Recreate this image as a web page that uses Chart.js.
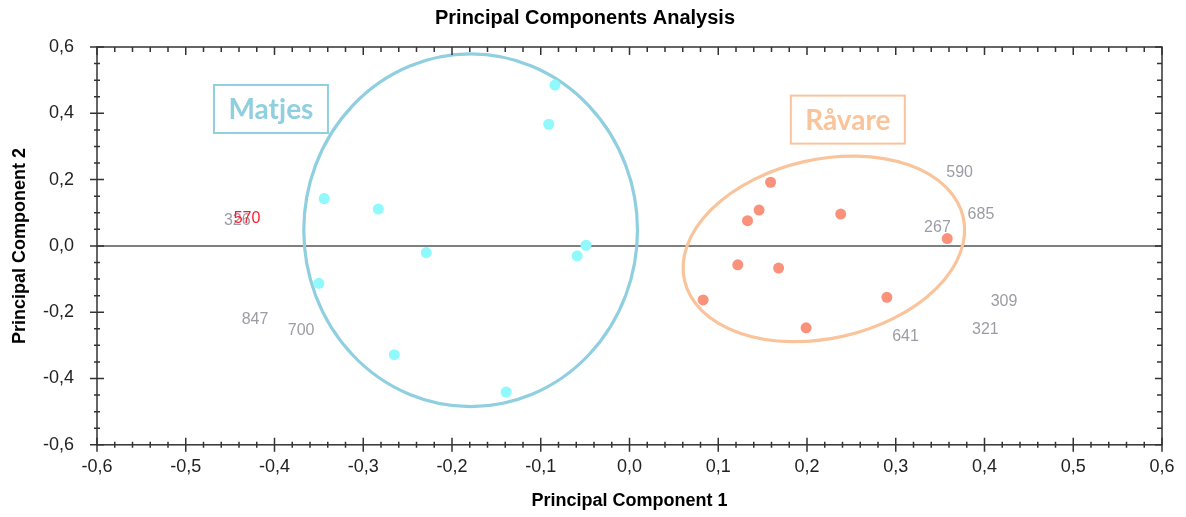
<!DOCTYPE html>
<html>
<head>
<meta charset="utf-8">
<title>Principal Components Analysis</title>
<script src="https://cdn.jsdelivr.net/npm/chart.js@4.4.1/dist/chart.umd.min.js"></script>
<style>
    html, body { margin: 0; padding: 0; background: #fff; }
    #wrap { width: 1186px; height: 517px; }
</style>
</head>
<body>
<div id="wrap"><canvas id="pcaChart" width="1186" height="517"></canvas></div>
<script>
// Scores (PC1 / PC2)
const matjesX = [-0.344, -0.283, -0.229, -0.350, -0.265, -0.139, -0.091, -0.084, -0.059, -0.049];
const matjesY = [0.143, 0.111, -0.020, -0.113, -0.328, -0.441, 0.367, 0.485, -0.030, 0.002];
const ravareX = [0.159, 0.146, 0.133, 0.238, 0.358, 0.122, 0.168, 0.083, 0.290, 0.199];
const ravareY = [0.192, 0.108, 0.076, 0.096, 0.022, -0.057, -0.067, -0.163, -0.155, -0.247];

// Sample numbers printed in the plot (570 is the red one)
const sampleLabels = ['326', '570', '847', '700', '590', '685', '267', '309', '321', '641'];
const sampleX = [-0.442, -0.431, -0.422, -0.370, 0.372, 0.396, 0.347, 0.422, 0.401, 0.311];
const sampleY = [0.075, 0.081, -0.221, -0.256, 0.220, 0.093, 0.054, -0.169, -0.253, -0.274];
const highlighted = ['570'];

// Group names in the boxes
const groupNames = ['Matjes', 'Råvare'];
const groupBoxX = [-0.404, 0.246];
const groupBoxY = [0.413, 0.381];

// Ellipses round the groups: centre, half width (PC1 units), half height (PC2 units), tilt in degrees
const ellipseCx = [-0.179, 0.219];
const ellipseCy = [0.047, -0.009];
const ellipseRx = [0.188, 0.161];
const ellipseRy = [0.532, 0.270];
const ellipseTilt = [0, -12.75];

const FONT = "'Liberation Sans', Arial, sans-serif";
const groupColors = ['#8fcfdf', '#f9c49b'];

const PcaChart = {
    /**
     * Builds the chart
     */
    init: function() {
        const canvas = document.getElementById('pcaChart');

        const config = {
            type: 'scatter',
            data: {
                datasets: [
                    {
                        label: groupNames[0],
                        data: this.toPoints(matjesX, matjesY),
                        backgroundColor: '#8ff9fb',
                        borderWidth: 0,
                        pointRadius: 5.5,
                        pointHoverRadius: 5.5
                    },
                    {
                        label: groupNames[1],
                        data: this.toPoints(ravareX, ravareY),
                        backgroundColor: '#fa917a',
                        borderWidth: 0,
                        pointRadius: 5.5,
                        pointHoverRadius: 5.5
                    }
                ]
            },
            options: {
                responsive: false,
                animation: false,
                devicePixelRatio: 1,
                layout: {
                    padding: { left: 8, right: 24, top: 0, bottom: 5 }
                },
                plugins: {
                    legend: { display: false },
                    tooltip: { enabled: false },
                    title: {
                        display: true,
                        text: 'Principal Components Analysis',
                        color: '#000',
                        font: { family: FONT, size: 20, weight: 'bold' },
                        padding: { top: 6, bottom: 17 }
                    }
                },
                scales: {
                    x: {
                        type: 'linear',
                        min: -0.6,
                        max: 0.6,
                        grid: { display: false, drawTicks: true, tickLength: 7 },
                        border: { display: false },
                        ticks: {
                            stepSize: 0.1,
                            padding: 4,
                            color: '#222',
                            font: { family: FONT, size: 18 },
                            callback: this.formatTick
                        },
                        title: {
                            display: true,
                            text: 'Principal Component 1',
                            color: '#000',
                            font: { family: FONT, size: 18, weight: 'bold' },
                            padding: { top: 9, bottom: 0 }
                        }
                    },
                    y: {
                        type: 'linear',
                        min: -0.6,
                        max: 0.6,
                        grid: { display: false, drawTicks: true, tickLength: 7 },
                        border: { display: false },
                        ticks: {
                            stepSize: 0.2,
                            padding: 16,
                            color: '#222',
                            font: { family: FONT, size: 18 },
                            callback: this.formatTick
                        },
                        title: {
                            display: true,
                            text: 'Principal Component 2',
                            color: '#000',
                            font: { family: FONT, size: 18, weight: 'bold' },
                            padding: { top: 1, bottom: 10 }
                        },
                        // pin the axis width so the plot box starts where it does in the original
                        afterFit: function(scale) {
                            scale.width = 89;
                        }
                    }
                }
            },
            plugins: [this.framePlugin]
        };

        this.chart = new Chart(canvas, config);
    },

    toPoints: function(xs, ys) {
        return xs.map((v, i) => ({ x: v, y: ys[i] }));
    },

    // comma as decimal sign, one decimal
    formatTick: function(value) {
        const v = Math.abs(value) < 1e-9 ? 0 : value;
        return v.toFixed(1).replace('.', ',');
    },

    /**
     * Zero line, ellipses, sample numbers, group boxes and the box with its ticks
     */
    framePlugin: {
        id: 'pcaFrame',

        beforeDatasetsDraw: function(chart) {
            const ctx = chart.ctx;
            const a = chart.chartArea;
            const xs = chart.scales.x;
            const ys = chart.scales.y;
            ctx.save();

            // horizontal line at PC2 = 0
            const y0 = ys.getPixelForValue(0);
            ctx.strokeStyle = '#555';
            ctx.lineWidth = 1.5;
            ctx.beginPath();
            ctx.moveTo(a.left, y0);
            ctx.lineTo(a.right, y0);
            ctx.stroke();

            // group ellipses
            for (let i = 0; i < ellipseCx.length; i++) {
                const cx = xs.getPixelForValue(ellipseCx[i]);
                const cy = ys.getPixelForValue(ellipseCy[i]);
                const rx = xs.getPixelForValue(ellipseCx[i] + ellipseRx[i]) - cx;
                const ry = cy - ys.getPixelForValue(ellipseCy[i] + ellipseRy[i]);
                ctx.strokeStyle = groupColors[i];
                ctx.lineWidth = 3.2;
                ctx.beginPath();
                ctx.ellipse(cx, cy, rx, ry, ellipseTilt[i] * Math.PI / 180, 0, 2 * Math.PI);
                ctx.stroke();
            }
            ctx.restore();
        },

        afterDatasetsDraw: function(chart) {
            const ctx = chart.ctx;
            const xs = chart.scales.x;
            const ys = chart.scales.y;
            ctx.save();
            ctx.textAlign = 'center';
            ctx.textBaseline = 'middle';

            // sample numbers
            ctx.font = '16px ' + FONT;
            sampleLabels.forEach((txt, i) => {
                ctx.fillStyle = highlighted.includes(txt) ? '#ff1a2e' : '#9c9ca4';
                ctx.fillText(txt, xs.getPixelForValue(sampleX[i]), ys.getPixelForValue(sampleY[i]));
            });

            // group names in boxes
            ctx.font = "bold 28px Lato, 'Open Sans', sans-serif";
            groupNames.forEach((txt, i) => {
                const cx = xs.getPixelForValue(groupBoxX[i]);
                const cy = ys.getPixelForValue(groupBoxY[i]);
                ctx.strokeStyle = groupColors[i];
                ctx.lineWidth = 2;
                ctx.strokeRect(cx - 57, cy - 24, 114, 48);
                ctx.fillStyle = groupColors[i];
                ctx.fillText(txt, cx, cy + 1);
            });
            ctx.restore();
        },

        afterDraw: function(chart) {
            const ctx = chart.ctx;
            const a = chart.chartArea;
            const xs = chart.scales.x;
            const ys = chart.scales.y;
            ctx.save();
            ctx.strokeStyle = '#333';
            ctx.lineWidth = 1.5;
            ctx.strokeRect(a.left, a.top, a.right - a.left, a.bottom - a.top);

            ctx.beginPath();
            // PC1 ticks: major every 0.1, minor every 0.02
            const nx = Math.round((xs.max - xs.min) / 0.02);
            for (let i = 0; i <= nx; i++) {
                const px = xs.getPixelForValue(xs.min + i * 0.02);
                const major = i % 5 === 0;
                ctx.moveTo(px, a.bottom - (major ? 7 : 3));
                ctx.lineTo(px, a.bottom + (major ? 7 : 3));
                ctx.moveTo(px, a.top);
                ctx.lineTo(px, a.top + (major ? 8 : 5));
            }
            // PC2 ticks: major every 0.2, minor every 0.05
            const ny = Math.round((ys.max - ys.min) / 0.05);
            for (let i = 0; i <= ny; i++) {
                const py = ys.getPixelForValue(ys.min + i * 0.05);
                const major = i % 4 === 0;
                ctx.moveTo(a.left - (major ? 7 : 3), py);
                ctx.lineTo(a.left + (major ? 7 : 3), py);
                ctx.moveTo(a.right, py);
                ctx.lineTo(a.right - (major ? 7 : 5), py);
            }
            ctx.stroke();
            ctx.restore();
        }
    }
};

document.addEventListener('DOMContentLoaded', function() {
    PcaChart.init();
});
</script>
</body>
</html>
